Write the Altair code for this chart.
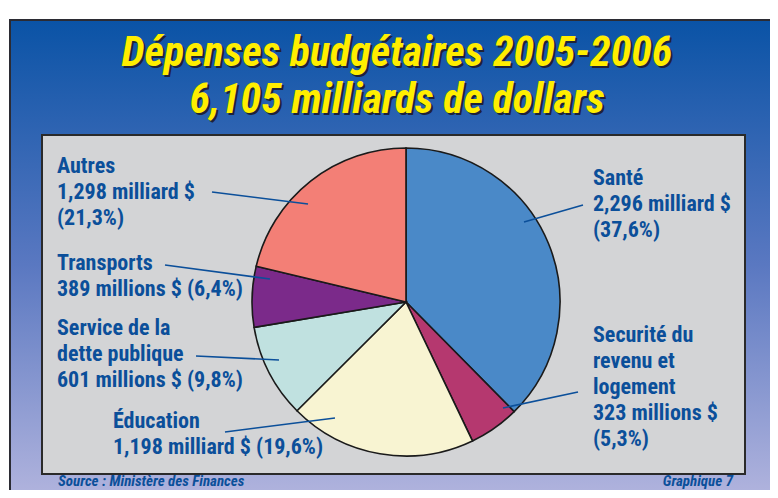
import altair as alt
import pandas as pd

W, H = 762, 482   # chart size (page minus 8px margin)
OX, OY = 8, 8     # page margin offset

# ---- data ----
categories = ["Santé", "Sécurité du revenu et logement", "Éducation",
              "Service de la dette publique", "Transports", "Autres"]
values = [2296, 323, 1198, 601, 389, 1298]          # millions $
percents = [37.6, 5.3, 19.6, 9.8, 6.4, 21.3]
colors = ["#4a89c8", "#b5386f", "#f8f4d2", "#c0e1e0", "#7b2a8a", "#f37f76"]
label_text = [
    "Santé\n2,296 milliard $\n(37,6%)",
    "Securité du\nrevenu et\nlogement\n323 millions $\n(5,3%)",
    "Éducation\n1,198 milliard $ (19,6%)",
    "Service de la\ndette publique\n601 millions $ (9,8%)",
    "Transports\n389 millions $ (6,4%)",
    "Autres\n1,298 milliard $\n(21,3%)",
]
# annotation anchors (page pixels)
label_x = [593, 593, 113, 57, 57, 57]
label_y = [185, 342, 428, 335, 270, 173]
leader_x1 = [583, 578, 225, 196, 165, 212]
leader_y1 = [205, 392, 432, 356, 265, 192]
leader_x2 = [524, 503, 335, 279, 270, 308]
leader_y2 = [222, 408, 418, 360, 279, 204]

title_lines = ["Dépenses budgétaires 2005-2006", "6,105 milliards de dollars"]
source_text = "Source : Ministère des Finances"
graph_text = "Graphique 7"

CX, CY, R = 406 - OX, 302 - OY, 154
FONT = "Roboto Condensed, DejaVu Sans Condensed, sans-serif"
BLUE = "#0b4f9a"

xs = alt.Scale(domain=[0, W], range=[0, W])
ys = alt.Scale(domain=[0, H], range=[0, H])

pie_df = pd.DataFrame({"cat": categories, "value": values,
                       "order": list(range(len(categories)))})
lab_df = pd.DataFrame({"text": label_text,
                       "x": [v - OX for v in label_x],
                       "y": [v - OY for v in label_y]})
lead_df = pd.DataFrame({"x": [v - OX for v in leader_x1], "y": [v - OY for v in leader_y1],
                        "x2": [v - OX for v in leader_x2], "y2": [v - OY for v in leader_y2]})
one = pd.DataFrame({"v": [1]})

gradient = {"gradient": "linear", "x1": 0, "x2": 0, "y1": 0, "y2": 1,
            "stops": [{"offset": 0, "color": "#0a53a6"},
                      {"offset": 0.5, "color": "#5a78c1"},
                      {"offset": 1, "color": "#b6b7df"}]}

frame = alt.Chart(one).mark_rect(fill=gradient, stroke="#2b2b33", strokeWidth=2).encode(
    x=alt.value(10 - OX), x2=alt.value(776 - OX),
    y=alt.value(20 - OY), y2=alt.value(H + 20))

panel = alt.Chart(one).mark_rect(fill="#d3d4d6", stroke="#2a2a2a", strokeWidth=2).encode(
    x=alt.value(42 - OX), x2=alt.value(745 - OX),
    y=alt.value(135 - OY), y2=alt.value(474 - OY))

title_df = pd.DataFrame({"t": title_lines, "y": [66 - OY, 113 - OY]})
title_shadow = alt.Chart(title_df).mark_text(
    font=FONT, fontSize=42, fontWeight="bold", fontStyle="italic",
    color="#1e2238", align="center", baseline="alphabetic", dx=2, dy=2).encode(
    x=alt.value(397 - OX), y=alt.Y("y:Q", scale=ys, axis=None), text="t:N")
title = alt.Chart(title_df).mark_text(
    font=FONT, fontSize=42, fontWeight="bold", fontStyle="italic",
    color="#ffee00", align="center", baseline="alphabetic").encode(
    x=alt.value(397 - OX), y=alt.Y("y:Q", scale=ys, axis=None), text="t:N")

shadow = alt.Chart(one).mark_arc(radius=R, color="#1c1c1c").encode(
    theta=alt.Theta("v:Q"), x=alt.value(CX + 3), y=alt.value(CY + 4))

pie = alt.Chart(pie_df).mark_arc(radius=R, stroke="#1a1a1a", strokeWidth=1.6).encode(
    theta=alt.Theta("value:Q", stack=True),
    order=alt.Order("order:Q"),
    color=alt.Color("cat:N", scale=alt.Scale(domain=categories, range=colors), legend=None),
    x=alt.value(CX), y=alt.value(CY))

leaders = alt.Chart(lead_df).mark_rule(color=BLUE, strokeWidth=1.6).encode(
    x=alt.X("x:Q", scale=xs, axis=None), y=alt.Y("y:Q", scale=ys, axis=None),
    x2="x2:Q", y2="y2:Q")

labels = alt.Chart(lab_df).mark_text(
    font=FONT, fontSize=22, fontWeight="bold", color=BLUE,
    align="left", baseline="alphabetic", lineBreak="\n", lineHeight=26).encode(
    x=alt.X("x:Q", scale=xs, axis=None), y=alt.Y("y:Q", scale=ys, axis=None), text="text:N")

foot_df = pd.DataFrame({"t": [source_text, graph_text],
                        "x": [58 - OX, 733 - OX], "y": [486 - OY, 486 - OY]})
foot_l = alt.Chart(foot_df.iloc[[0]]).mark_text(
    font=FONT, fontSize=15, fontWeight="bold", fontStyle="italic", color=BLUE,
    align="left", baseline="alphabetic").encode(
    x=alt.X("x:Q", scale=xs, axis=None), y=alt.Y("y:Q", scale=ys, axis=None), text="t:N")
foot_r = alt.Chart(foot_df.iloc[[1]]).mark_text(
    font=FONT, fontSize=15, fontWeight="bold", fontStyle="italic", color=BLUE,
    align="right", baseline="alphabetic").encode(
    x=alt.X("x:Q", scale=xs, axis=None), y=alt.Y("y:Q", scale=ys, axis=None), text="t:N")

chart = alt.layer(frame, panel, title_shadow, title, shadow, pie, leaders, labels,
                  foot_l, foot_r).properties(
    width=W, height=H, padding=0, autosize=alt.AutoSizeParams(type="none"),
    background="white"
).configure_view(stroke=None)

chart.save("out.html", embed_options={"renderer": "svg", "actions": False})
